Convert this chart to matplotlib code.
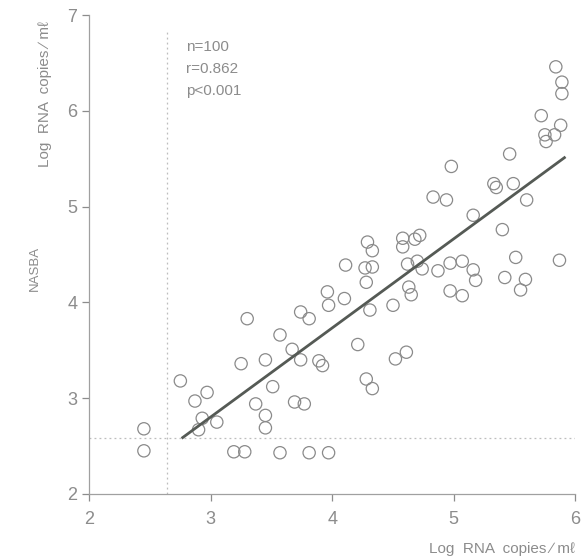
import numpy as np
import matplotlib.pyplot as plt

plt.rcParams['font.family'] = ['Liberation Sans', 'DejaVu Sans']

# Points (log RNA copies/ml)
rt_pcr = [2.45, 2.45, 2.75, 2.87, 2.97, 2.93, 2.90, 3.05, 3.19, 3.28,
          3.25, 3.45, 3.51, 3.37, 3.45, 3.45, 3.57, 3.57, 3.67, 3.74,
          3.89, 3.92, 4.21, 4.52, 4.61, 4.28, 4.33, 3.69, 3.77, 3.81,
          3.97, 4.11, 3.96, 4.10, 3.97, 3.74, 3.81, 3.30, 5.16, 4.29,
          4.33, 4.58, 4.58, 4.68, 4.72, 4.62, 4.70, 4.74, 4.87, 4.97,
          5.07, 5.16, 5.18, 4.27, 4.33, 4.28, 4.63, 4.65, 4.97, 5.07,
          4.50, 4.31, 5.40, 5.84, 5.89, 5.89, 5.72, 5.88, 5.75, 5.83,
          5.76, 5.46, 4.98, 5.33, 5.35, 5.49, 4.83, 4.94, 5.60, 5.51,
          5.87, 5.42, 5.59, 5.55]
nasba = [2.68, 2.45, 3.18, 2.97, 3.06, 2.79, 2.67, 2.75, 2.44, 2.44,
         3.36, 3.40, 3.12, 2.94, 2.82, 2.69, 3.66, 2.43, 3.51, 3.40,
         3.39, 3.34, 3.56, 3.41, 3.48, 3.20, 3.10, 2.96, 2.94, 2.43,
         2.43, 4.39, 4.11, 4.04, 3.97, 3.90, 3.83, 3.83, 4.91, 4.63,
         4.54, 4.67, 4.58, 4.66, 4.70, 4.40, 4.43, 4.35, 4.33, 4.41,
         4.43, 4.34, 4.23, 4.36, 4.37, 4.21, 4.16, 4.08, 4.12, 4.07,
         3.97, 3.92, 4.76, 6.46, 6.30, 6.18, 5.95, 5.85, 5.75, 5.75,
         5.68, 5.55, 5.42, 5.24, 5.20, 5.24, 5.10, 5.07, 5.07, 4.47,
         4.44, 4.26, 4.24, 4.13]

# Regression line end points and detection-limit cut-offs
fit_x = [2.76, 5.92]
fit_y = [2.58, 5.52]
cut_x = 2.64
cut_y = 2.58

grey = '#8c8c8c'

fig = plt.figure(figsize=(5.87, 5.6), dpi=100)
ax = fig.add_axes([0.152, 0.118, 0.828, 0.855])

ax.scatter(rt_pcr, nasba, s=78, facecolors='none', edgecolors='#8a8a8a',
           linewidths=0.9, zorder=3)
ax.plot(fit_x, fit_y, color='#555a55', lw=2.0, solid_capstyle='butt', zorder=4)

ax.axvline(cut_x, ymin=0, ymax=0.97, color='#bdbdbd', lw=0.9, ls=(0, (1.5, 2.5)))
ax.axhline(cut_y, color='#bdbdbd', lw=0.9, ls=(0, (1.5, 2.5)))

ax.set_xlim(2, 6)
ax.set_ylim(2, 7)
ax.set_xticks([2, 3, 4, 5, 6])
ax.set_yticks([2, 3, 4, 5, 6, 7])

for side in ['top', 'right']:
    ax.spines[side].set_visible(False)
for side in ['left', 'bottom']:
    ax.spines[side].set_color('#a0a0a0')
    ax.spines[side].set_linewidth(0.9)
ax.tick_params(colors=grey, labelsize=13, length=5, width=0.9)
ax.tick_params(axis='x', pad=7)

ax.text(2.80, 6.74, 'n=100', color=grey, fontsize=11, va='top')
ax.text(2.80, 6.51, 'r=0.862', color=grey, fontsize=11, va='top')
ax.text(2.80, 6.28, 'p<0.001', color=grey, fontsize=11, va='top')

fig.text(0.077, 0.832, 'Log  RNA  copies ∕ mℓ', rotation=90, color=grey,
         fontsize=11, ha='center', va='center')
fig.text(0.06, 0.52, 'NASBA', rotation=90, color=grey, fontsize=9.5,
         ha='center', va='center')
fig.text(0.98, 0.008, 'Log  RNA  copies ∕ mℓ', color=grey, fontsize=11,
         ha='right', va='bottom')

plt.savefig('out.png', dpi=100)
